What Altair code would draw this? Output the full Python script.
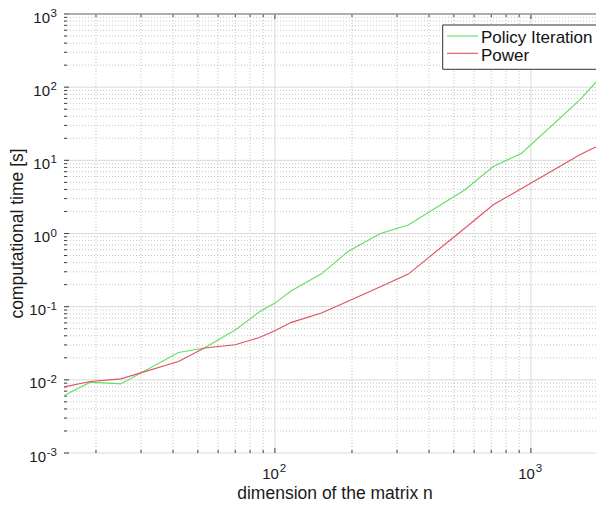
import altair as alt
import pandas as pd

# ---- data ----
n_values = [15, 19, 25, 42, 53, 70, 87, 100, 116, 152, 193, 257, 332, 553, 713, 920, 1553, 1930]
policy_iteration = [0.0061, 0.0093, 0.0088, 0.0237, 0.0272, 0.048, 0.085, 0.112, 0.165, 0.281,
                    0.567, 0.99, 1.31, 3.96, 8.22, 12.5, 67.0, 155.0]
power = [0.0080, 0.0095, 0.0103, 0.0178, 0.0272, 0.0301, 0.038, 0.047, 0.061, 0.0818,
         0.119, 0.185, 0.279, 1.19, 2.47, 4.13, 11.9, 17.2]
series_names = ["Policy Iteration", "Power"]
series_colors = ["#62de62", "#e0505f"]

x_major = [100, 1000]
x_exponents = ["2", "3"]
x_minor = [20, 30, 40, 50, 60, 70, 80, 90, 200, 300, 400, 500, 600, 700, 800, 900]
y_major = [0.001, 0.01, 0.1, 1, 10, 100, 1000]
y_exponents = ["-3", "-2", "-1", "0", "1", "2", "3"]
y_minor = [m * d for d in [0.001, 0.01, 0.1, 1, 10, 100] for m in range(2, 10)]

x_title = "dimension of the matrix n"
y_title = "computational time [s]"

W, H = 532, 439
FONT = "Liberation Sans"
AX = "#404040"
TXT = "#1a1a1a"

xs = alt.Scale(type="log", domain=[15, 1796], nice=False)
ys = alt.Scale(type="log", domain=[0.001, 1000], nice=False)

df = pd.DataFrame({
    "n": n_values * 2,
    "t": policy_iteration + power,
    "series": [series_names[0]] * len(n_values) + [series_names[1]] * len(n_values),
})
dxmaj = pd.DataFrame({"v": x_major, "base": ["10"] * len(x_major), "e": x_exponents})
dxmin = pd.DataFrame({"v": x_minor})
dymaj = pd.DataFrame({"v": y_major, "base": ["10"] * len(y_major), "e": y_exponents})
dymin = pd.DataFrame({"v": y_minor})
dy_pos = dymaj[~dymaj["e"].str.startswith("-")]
dy_neg = dymaj[dymaj["e"].str.startswith("-")]
one = pd.DataFrame({"a": [0]})
dtitles = pd.DataFrame({"xt": [x_title], "yt": [y_title]})

XN = lambda: alt.X("v:Q", scale=xs, axis=None)
YN = lambda: alt.Y("v:Q", scale=ys, axis=None)

layers = []
# minor grid (dotted)
layers.append(alt.Chart(dxmin).mark_rule(color="#c4c4c4", strokeWidth=1, strokeDash=[1, 2]).encode(x=XN()))
layers.append(alt.Chart(dymin).mark_rule(color="#c4c4c4", strokeWidth=1, strokeDash=[1, 2]).encode(y=YN()))
# major grid
layers.append(alt.Chart(dxmaj).mark_rule(color="#dadada", strokeWidth=1).encode(x=XN()))
layers.append(alt.Chart(dymaj).mark_rule(color="#dadada", strokeWidth=1).encode(y=YN()))
# inward ticks
for d, ln in ((dxmaj, 5), (dxmin, 3)):
    layers.append(alt.Chart(d).mark_rule(color=AX).encode(x=XN(), y=alt.value(H), y2=alt.value(H - ln)))
    layers.append(alt.Chart(d).mark_rule(color=AX).encode(x=XN(), y=alt.value(0), y2=alt.value(ln)))
for d, ln in ((dymaj, 5), (dymin, 3)):
    layers.append(alt.Chart(d).mark_rule(color=AX).encode(y=YN(), x=alt.value(0), x2=alt.value(ln)))

# data lines
layers.append(
    alt.Chart(df).mark_line(strokeWidth=1.1, clip=True).encode(
        x=alt.X("n:Q", scale=xs, axis=alt.Axis(
            title=None, labels=False, ticks=False, grid=False, domainColor=AX, domainWidth=1)),
        y=alt.Y("t:Q", scale=ys, axis=alt.Axis(
            title=None, labels=False, ticks=False, grid=False, domainColor=AX, domainWidth=1)),
        color=alt.Color("series:N", scale=alt.Scale(domain=series_names, range=series_colors), legend=None),
    )
)

# legend
layers.append(alt.Chart(one).mark_rect(fill="white", stroke="#333333", strokeWidth=1).encode(
    x=alt.value(378.7), x2=alt.value(533.5), y=alt.value(11), y2=alt.value(55.3)))
for i, name in enumerate(series_names):
    dn = pd.DataFrame({"s": [name]})
    layers.append(alt.Chart(dn).mark_rule(color=series_colors[i], strokeWidth=1.1).encode(
        x=alt.value(383), x2=alt.value(414), y=alt.value(22 + 17.3 * i)))
    layers.append(alt.Chart(dn).mark_text(align="left", baseline="alphabetic", font=FONT, fontSize=17,
                                          color="#111111").encode(
        x=alt.value(417), y=alt.value(29.3 + 17.7 * i), text="s:N"))

# tick labels (10 with superscript exponent)
layers.append(alt.Chart(dy_pos).mark_text(align="right", baseline="alphabetic", font=FONT, fontSize=15,
                                          dy=8.5, color=TXT).encode(x=alt.value(-14), y=YN(), text="base:N"))
layers.append(alt.Chart(dy_neg).mark_text(align="right", baseline="alphabetic", font=FONT, fontSize=15,
                                          dy=8.5, color=TXT).encode(x=alt.value(-18), y=YN(), text="base:N"))
layers.append(alt.Chart(dymaj).mark_text(align="right", baseline="alphabetic", font=FONT, fontSize=11.5,
                                         dy=3, color=TXT).encode(x=alt.value(-7), y=YN(), text="e:N"))
layers.append(alt.Chart(dxmaj).mark_text(align="right", baseline="alphabetic", font=FONT, fontSize=15,
                                         dx=4, color=TXT).encode(x=XN(), y=alt.value(465.3), text="base:N"))
layers.append(alt.Chart(dxmaj).mark_text(align="left", baseline="alphabetic", font=FONT, fontSize=11.5,
                                         dx=4.8, color=TXT).encode(x=XN(), y=alt.value(457.7), text="e:N"))

# axis titles
layers.append(alt.Chart(dtitles).mark_text(align="center", baseline="alphabetic", font=FONT, fontSize=17.5,
                                           color=TXT).encode(x=alt.value(271), y=alt.value(485.3), text="xt:N"))
layers.append(alt.Chart(dtitles).mark_text(align="center", baseline="alphabetic", font=FONT, fontSize=17.5,
                                           angle=270, color=TXT).encode(x=alt.value(-41), y=alt.value(H / 2),
                                                                        text="yt:N"))

# top box edge
layers.append(alt.Chart(one).mark_rule(color="#9a9a9a", strokeWidth=1.5).encode(
    x=alt.value(0), x2=alt.value(W), y=alt.value(0)))

chart = alt.layer(*layers).properties(
    width=W, height=H,
    autosize=alt.AutoSizeParams(type="none"),
    padding={"left": 56, "top": 6, "right": 0, "bottom": 50},
).configure_view(stroke=None)

chart.save("out.html", embed_options={"renderer": "svg", "actions": False})
